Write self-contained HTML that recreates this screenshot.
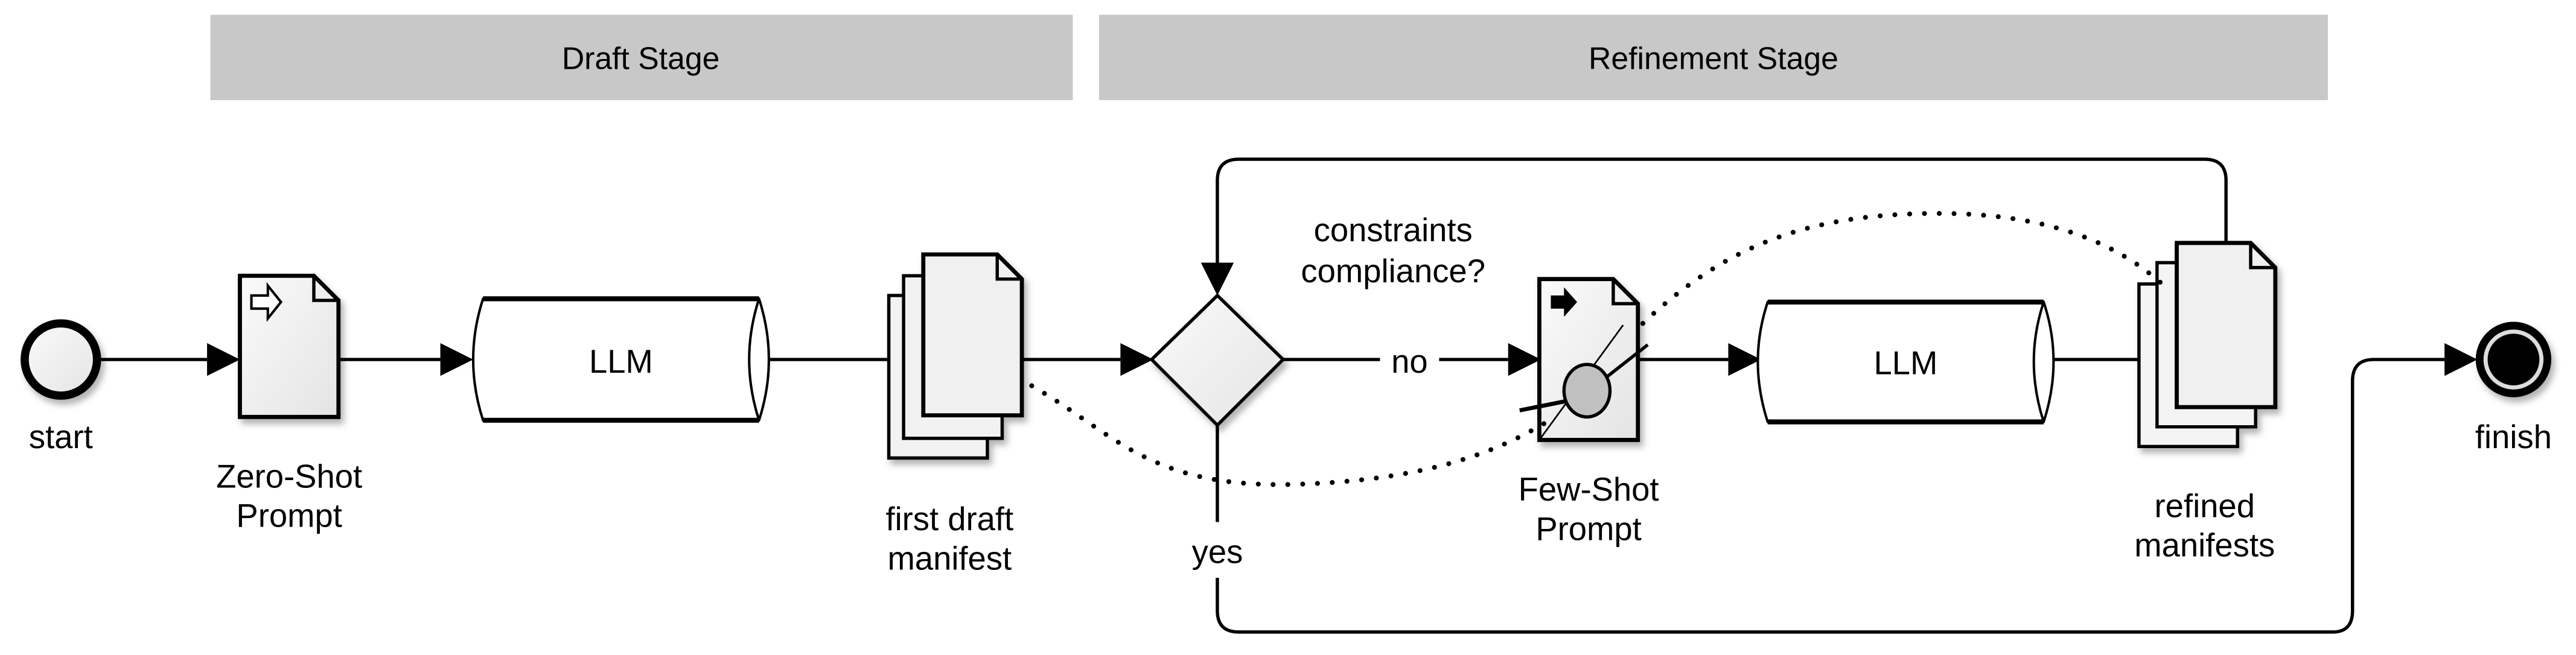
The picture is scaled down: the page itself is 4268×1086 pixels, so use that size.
<!DOCTYPE html>
<html><head><meta charset="utf-8"><style>
html,body{margin:0;padding:0;background:#fff;}
svg{display:block;}
text{font-family:"Liberation Sans",sans-serif;fill:#000;}
</style></head><body>
<svg width="4268" height="1086" viewBox="0 0 1568 399" xmlns="http://www.w3.org/2000/svg">
<defs>
<linearGradient id="g" x1="0" y1="0" x2="1" y2="1"><stop offset="0" stop-color="#fafafa"/><stop offset="1" stop-color="#e4e4e4"/></linearGradient>
<filter id="sh" x="-20%" y="-20%" width="150%" height="150%"><feDropShadow dx="2" dy="3" stdDeviation="2" flood-color="#000" flood-opacity="0.3"/></filter>
</defs>
<rect x="128" y="9" width="525" height="52" fill="#c8c8c8"/>
<rect x="669" y="9" width="748" height="52" fill="#c8c8c8"/>
<text x="390" y="42" font-size="19" text-anchor="middle">Draft Stage</text>
<text x="1043" y="42" font-size="19" text-anchor="middle">Refinement Stage</text>

<g stroke="#000" stroke-width="2" fill="none">
<line x1="61" y1="219" x2="126" y2="219"/>
<line x1="206" y1="219" x2="268" y2="219"/>
<line x1="468" y1="219" x2="542" y2="219"/>
<line x1="622" y1="219" x2="682" y2="219"/>
<line x1="781" y1="219" x2="840" y2="219"/>
<line x1="876" y1="219" x2="918" y2="219"/>
<line x1="997" y1="219" x2="1052" y2="219"/>
<line x1="1250" y1="219" x2="1305" y2="219"/>
<path d="M1355 148 V110 Q1355 97 1342 97 H754 Q741 97 741 110 V160"/>
<path d="M741 259 V318 M741 352 V372 Q741 385 754 385 H1420 Q1432 385 1432 372 V232 Q1432 219 1445 219 H1488"/>
</g>
<g fill="#000">
<polygon points="126,209 146,219 126,229"/>
<polygon points="268,209 288,219 268,229"/>
<polygon points="542,209 562,219 542,229"/>
<polygon points="682,209 702,219 682,229"/>
<polygon points="918,209 938,219 918,229"/>
<polygon points="1052,209 1072,219 1052,229"/>
<polygon points="1305,209 1325,219 1305,229"/>
<polygon points="1488,209 1508,219 1488,229"/>
<polygon points="731,160 741,180 751,160"/>
</g>
<text x="858" y="227" font-size="20" text-anchor="middle">no</text>
<text x="741" y="343" font-size="20" text-anchor="middle">yes</text>
<text x="848" y="147" font-size="20" text-anchor="middle">constraints</text>
<text x="848" y="172" font-size="20" text-anchor="middle">compliance?</text>

<circle cx="37" cy="219" r="22" fill="url(#g)" stroke="#000" stroke-width="5" filter="url(#sh)"/>
<text x="37" y="273" font-size="20" text-anchor="middle">start</text>
<circle cx="1530" cy="219" r="23" fill="#000" filter="url(#sh)"/>
<circle cx="1530" cy="219" r="17" fill="none" stroke="#ddd" stroke-width="2.5"/>
<text x="1530" y="273" font-size="20" text-anchor="middle">finish</text>

<path d="M146 168 H191 L206 183 V254 H146 Z" fill="url(#g)" stroke="#000" stroke-width="2.5" filter="url(#sh)"/>
<path d="M191 168 V183 H206" fill="none" stroke="#000" stroke-width="2"/>
<path d="M153 180 H163 V174 L171 184 L163 194 V188 H153 Z" fill="#fff" stroke="#000" stroke-width="1.5"/>
<text x="176" y="297" font-size="20" text-anchor="middle">Zero-Shot</text>
<text x="176" y="321" font-size="20" text-anchor="middle">Prompt</text>

<g stroke="#000" fill="#fff">
<path d="M294 182 Q282 219 294 256 H462 Q474 219 462 182 Z" stroke-width="1.5"/>
<path d="M462 182 Q450 219 462 256" fill="none" stroke-width="1.5"/>
<path d="M294 182 H462 M294 256 H462" stroke-width="3"/>
<path d="M1076 184 Q1064 220 1076 257 H1244 Q1256 220 1244 184 Z" stroke-width="1.5"/>
<path d="M1244 184 Q1232 220 1244 257" fill="none" stroke-width="1.5"/>
<path d="M1076 184 H1244 M1076 257 H1244" stroke-width="3"/>
</g>
<text x="378" y="227" font-size="20" text-anchor="middle">LLM</text>
<text x="1160" y="228" font-size="20" text-anchor="middle">LLM</text>

<g stroke="#000" stroke-width="2" filter="url(#sh)">
<path d="M541 180 H586 L601 195 V279 H541 Z" fill="#f2f2f2"/>
<path d="M550 168 H595 L610 183 V267 H550 Z" fill="#f2f2f2"/>
<path d="M562 155 H607 L622 170 V253 H562 Z" fill="#f0f0f0" stroke-width="2.5"/>
</g>
<path d="M607 155 V170 H622" fill="none" stroke="#000" stroke-width="2"/>
<text x="578" y="323" font-size="20" text-anchor="middle">first draft</text>
<text x="578" y="347" font-size="20" text-anchor="middle">manifest</text>

<polygon points="741,180 781,219 741,259 701,219" fill="url(#g)" stroke="#000" stroke-width="2" filter="url(#sh)"/>

<path d="M937 170 H982 L997 185 V268 H937 Z" fill="url(#g)" stroke="#000" stroke-width="2.5" filter="url(#sh)"/>
<path d="M982 170 V185 H997" fill="none" stroke="#000" stroke-width="2"/>
<path d="M944 180 H952 V175 L960 184 L952 193 V188 H944 Z" fill="#000"/>
<line x1="937" y1="268" x2="988" y2="198" stroke="#000" stroke-width="1"/>
<line x1="975" y1="232" x2="1003" y2="210" stroke="#000" stroke-width="2"/>
<line x1="925" y1="250" x2="955" y2="244" stroke="#000" stroke-width="2.5"/>
<ellipse cx="966" cy="238" rx="14" ry="16" fill="#c0c0c0" stroke="#000" stroke-width="2"/>
<text x="967" y="305" font-size="20" text-anchor="middle">Few-Shot</text>
<text x="967" y="329" font-size="20" text-anchor="middle">Prompt</text>

<g stroke="#000" stroke-width="2" filter="url(#sh)">
<path d="M1302 173 H1347 L1362 188 V272 H1302 Z" fill="#f4f4f4"/>
<path d="M1313 160 H1358 L1373 175 V260 H1313 Z" fill="#f4f4f4"/>
<path d="M1325 148 H1370 L1385 163 V248 H1325 Z" fill="#f0f0f0" stroke-width="2.5"/>
</g>
<path d="M1370 148 V163 H1385" fill="none" stroke="#000" stroke-width="2"/>
<text x="1342" y="315" font-size="20" text-anchor="middle">refined</text>
<text x="1342" y="339" font-size="20" text-anchor="middle">manifests</text>

<g fill="none" stroke="#000" stroke-width="3" stroke-linecap="round" stroke-dasharray="0 9">
<path d="M628 235 C680 265 700 298 790 295 C880 292 920 270 945 255"/>
<path d="M1000 197 C1050 150 1100 130 1180 130 C1250 130 1290 150 1315 172"/>
</g>
</svg>
</body></html>
